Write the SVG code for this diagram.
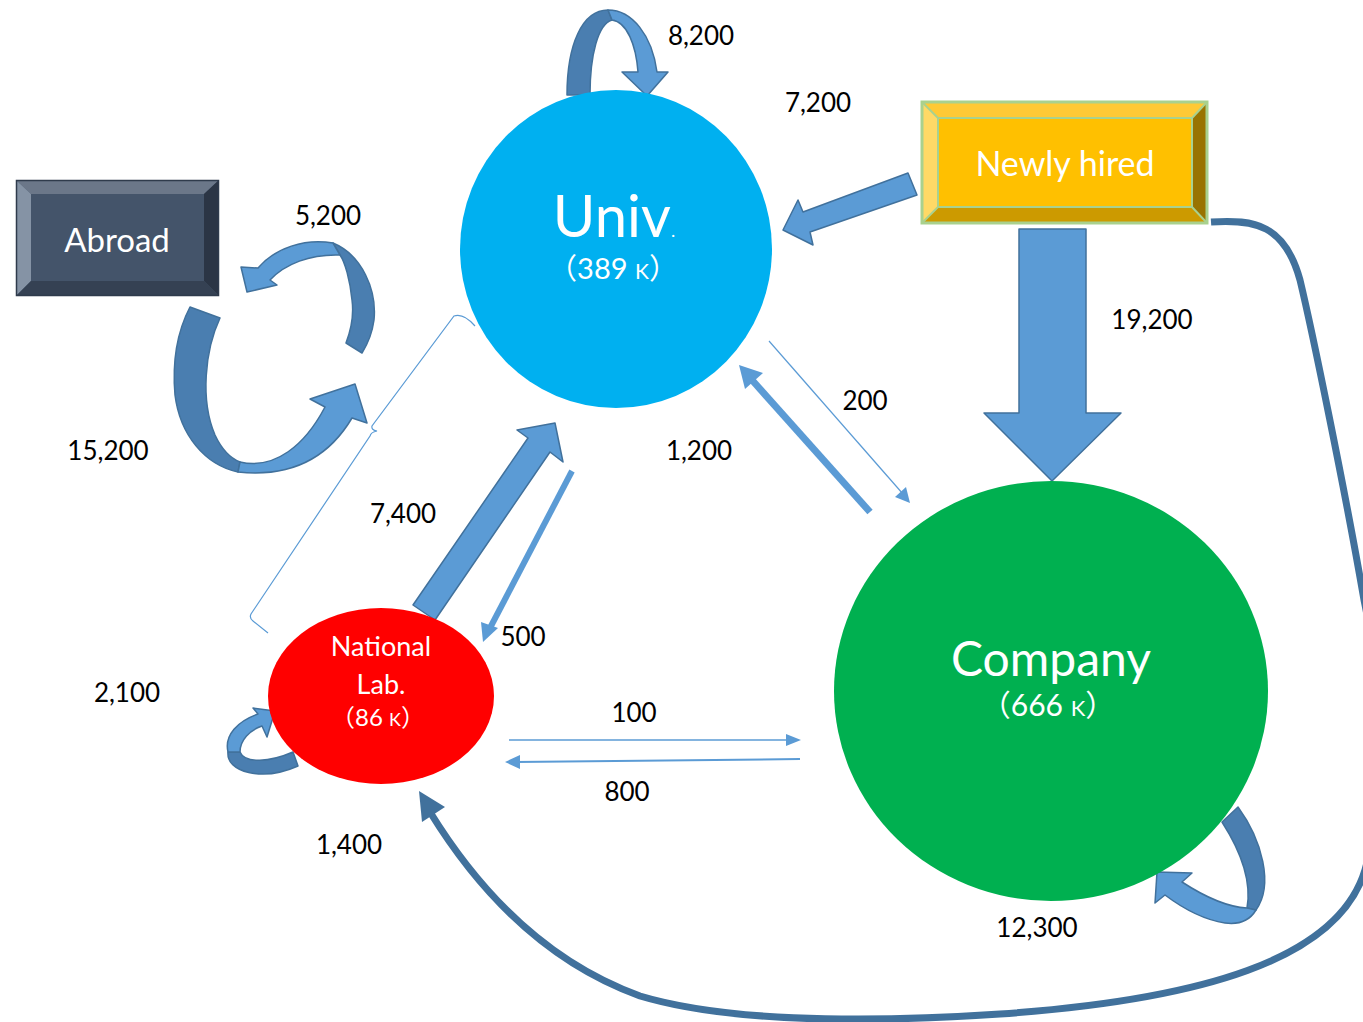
<svg xmlns="http://www.w3.org/2000/svg" width="1363" height="1022" viewBox="0 0 1363 1022">
<style>
text{font-family:Lato,"Open Sans","Liberation Sans",sans-serif}
.lbl{font-size:26px;fill:#000;text-anchor:middle}
.wt{fill:#fff;text-anchor:middle}
.lt{fill:#5B9BD5;stroke:#41719C;stroke-width:1.5;stroke-linejoin:round}
.dk{fill:#4A7EB0;stroke:#41719C;stroke-width:1.5;stroke-linejoin:round}
.thin{stroke:#5B9BD5;fill:none}
.p{font-family:"Noto Sans CJK JP",sans-serif}
</style>
<rect width="1363" height="1022" fill="#fff"/>

<g id="connectors">
  <!-- Univ self loop 8,200 -->
  <path class="dk" d="M567,95 C567,45 582,10 608,10 L612,20 C598,24 590,55 590,95 Z"/>
  <path class="lt" d="M608,10 C632,10 652,35 657,72 L668,72 L647,96 L622,72 L638,72 C636,45 627,22 612,20 Z"/>
  <!-- Abroad loop 5,200 -->
  <path class="dk" d="M333,243 C362,255 377,290 374,320 C372,335 367,345 362,353 L346,343 C351,330 354,315 352,300 C350,280 345,262 340,255 Z"/>
  <path class="lt" d="M333,243 C305,238 275,248 258,268 L241,267 L247,292 L277,285 L270,280 C285,264 310,254 340,255 Z"/>
  <!-- Abroad loop 15,200 -->
  <path class="dk" d="M190,307 L220,318 C205,350 200,400 215,435 C222,450 230,458 240,462 L238,472 C205,465 180,435 175,395 C172,360 178,330 190,307 Z"/>
  <path class="lt" d="M240,462 C275,470 305,445 325,407 L310,399 L355,384 L367,423 L352,418 C330,455 295,478 238,472 Z"/>
  <!-- NatLab loop 2,100 -->
  <path class="dk" d="M228,752 C226,772 262,782 298,766 L293,752 C270,762 245,764 240,752 Z"/>
  <path class="lt" d="M228,752 C224,735 238,721 258,714 L253,708 L275,711 L267,737 L262,726 C250,730 240,740 240,752 Z"/>
  <!-- Company loop 12,300 -->
  <path class="dk" d="M1222,822 L1238,807 C1262,840 1274,885 1256,910 L1247,908 C1252,880 1240,850 1222,822 Z"/>
  <path class="lt" d="M1256,910 C1250,920 1240,925 1225,923 C1205,920 1185,910 1165,895 L1155,903 L1157,872 L1192,873 L1182,882 C1205,897 1228,907 1247,908 Z"/>
  <!-- Newly hired -> Univ 7,200 -->
  <polygon class="lt" points="908,173 917,195 810,232 813,245 783,230 798,200 803,212"/>
  <!-- Newly hired -> Company 19,200 -->
  <polygon class="lt" points="1019,229 1086,229 1086,413 1121,413 1052,481 984,413 1019,413"/>
  <!-- NatLab -> Univ 7,400 -->
  <polygon class="lt" points="413,605 528,438 517,430 555,423 563,462 550,452 435,620"/>
  <!-- Univ -> NatLab 500 -->
  <line x1="572" y1="471" x2="490" y2="628" stroke="#5B9BD5" stroke-width="6"/>
  <polygon points="483,642 481,622 498,628" fill="#5B9BD5"/>
  <!-- Univ -> Company 200 -->
  <line class="thin" x1="769" y1="341" x2="903" y2="494" stroke-width="1.2"/>
  <polygon points="910,503 895,497 906,487" fill="#5B9BD5"/>
  <!-- Company -> Univ 1,200 -->
  <line x1="870" y1="512" x2="752" y2="380" stroke="#5B9BD5" stroke-width="7"/>
  <polygon points="739,365 745,389 763,373" fill="#5B9BD5"/>
  <!-- NatLab -> Company 100 -->
  <line class="thin" x1="509" y1="740" x2="790" y2="740" stroke-width="1.3"/>
  <polygon points="801,740 786,734 786,746" fill="#5B9BD5"/>
  <!-- Company -> NatLab 800 -->
  <line class="thin" x1="800" y1="759" x2="516" y2="762" stroke-width="2"/>
  <polygon points="505,762 520,755 520,769" fill="#5B9BD5"/>
  <!-- Newly hired -> NatLab 1,400 (big curve) -->
  <path d="M1211,222 C1255,219 1285,225 1300,280 C1312,330 1345,490 1364,600 C1385,700 1385,800 1365,870 C1338,960 1200,1000 1000,1014 C850,1024 720,1020 640,996 C540,960 475,885 430,812" fill="none" stroke="#41719C" stroke-width="7"/>
  <polygon points="419,791 422,822 445,807" fill="#41719C"/>
  <!-- bracket -->
  <path class="thin" stroke-width="1.2" d="M475,326 C468,318 460,314 454,316 L372,426 Q371,430 377,431 Q371,432 370,436 L251,614 Q249,618 253,621 L268,633"/>
</g>

<g id="univ">
  <ellipse cx="616" cy="249" rx="156" ry="159" fill="#00B0F0"/>
  <text class="wt" x="614" y="237" font-size="58">Univ<tspan font-size="18">.</tspan></text>
  <text class="wt" x="613" y="279" font-size="29"><tspan class="p">（</tspan>389 <tspan font-size="21">K</tspan><tspan class="p">）</tspan></text>
</g>

<g id="company">
  <ellipse cx="1051" cy="691" rx="217" ry="210" fill="#00B050"/>
  <text class="wt" x="1051" y="676" font-size="48">Company</text>
  <text class="wt" x="1048" y="716" font-size="30"><tspan class="p">（</tspan>666 <tspan font-size="22">K</tspan><tspan class="p">）</tspan></text>
</g>

<g id="natlab">
  <ellipse cx="381" cy="696" rx="113" ry="88" fill="#FF0000"/>
  <text class="wt" x="381" y="656" font-size="27">National</text>
  <text class="wt" x="381" y="694" font-size="27">Lab.</text>
  <text class="wt" x="378" y="726" font-size="24"><tspan class="p">（</tspan>86 <tspan font-size="18">K</tspan><tspan class="p">）</tspan></text>
</g>

<g id="abroad">
  <rect x="16" y="180" width="203" height="116" fill="#44546A"/>
  <polygon points="16,180 219,180 204,194 31,194" fill="#6B7789"/>
  <polygon points="16,180 31,194 31,281 16,296" fill="#8593A5"/>
  <polygon points="219,180 219,296 204,281 204,194" fill="#2B3545"/>
  <polygon points="16,296 31,281 204,281 219,296" fill="#354153"/>
  <rect x="16.5" y="180.5" width="202" height="115" fill="none" stroke="#2F3B4C" stroke-width="1.5"/>
  <text class="wt" x="117" y="252" font-size="33">Abroad</text>
</g>

<g id="newly_hired">
  <rect x="922" y="102" width="285" height="121" fill="#FFC000"/>
  <polygon points="922,102 1207,102 1192,118 938,118" fill="#FFC935"/>
  <polygon points="922,102 938,118 938,207 922,223" fill="#FFD966"/>
  <polygon points="1207,102 1207,223 1192,207 1192,118" fill="#997300"/>
  <polygon points="922,223 938,207 1192,207 1207,223" fill="#CC9A00"/>
  <g fill="none" stroke="#A9D18E" stroke-width="3">
    <rect x="922" y="102" width="285" height="121"/>
    <rect x="938" y="118" width="254" height="89" stroke-width="2"/>
    <path d="M922,102 L938,118 M1207,102 L1192,118 M922,223 L938,207 M1207,223 L1192,207" stroke-width="2"/>
  </g>
  <text class="wt" x="1065" y="176" font-size="34">Newly hired</text>
</g>

<g id="labels">
  <text class="lbl" x="701" y="45">8,200</text>
  <text class="lbl" x="818" y="112">7,200</text>
  <text class="lbl" x="328" y="225">5,200</text>
  <text class="lbl" x="108" y="460">15,200</text>
  <text class="lbl" x="1152" y="329">19,200</text>
  <text class="lbl" x="865" y="410">200</text>
  <text class="lbl" x="699" y="460">1,200</text>
  <text class="lbl" x="403" y="523">7,400</text>
  <text class="lbl" x="523" y="646">500</text>
  <text class="lbl" x="127" y="702">2,100</text>
  <text class="lbl" x="634" y="722">100</text>
  <text class="lbl" x="627" y="801">800</text>
  <text class="lbl" x="349" y="854">1,400</text>
  <text class="lbl" x="1037" y="937">12,300</text>
</g>
</svg>
